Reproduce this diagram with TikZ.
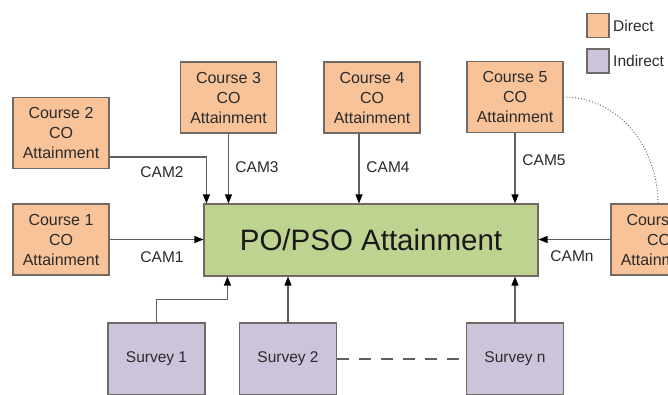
\documentclass[tikz,border=0pt]{standalone}
\usepackage{fontspec}
\setmainfont{Liberation Sans}
\usetikzlibrary{arrows.meta}

\definecolor{directfill}{HTML}{F9C39A}
\definecolor{indirectfill}{HTML}{CDC3DB}
\definecolor{targetfill}{HTML}{BFD391}
\definecolor{edgegray}{HTML}{5E5E5E}
\definecolor{boxline}{HTML}{6F6A66}
\definecolor{txt}{HTML}{2A2A2A}

\tikzset{
  base/.style={draw=boxline, line width=1.1pt, text=txt, align=center,
    inner sep=0pt, font=\fontsize{16}{20}\selectfont},
  coursebox/.style={base, fill=directfill, minimum width=96pt, minimum height=71pt},
  surveybox/.style={base, fill=indirectfill, minimum width=97pt, minimum height=72pt,
    font=\fontsize{15.5}{19}\selectfont},
  targetbox/.style={base, fill=targetfill, minimum width=334pt, minimum height=72pt,
    text=black!90, font=\fontsize{29.5}{34}\selectfont},
  keybox/.style={base, minimum width=22pt, minimum height=24pt},
  keytext/.style={anchor=west, inner sep=0pt, text=txt, font=\fontsize{15.5}{19}\selectfont},
  camlabel/.style={inner sep=0pt, text=txt, font=\fontsize{15.5}{19}\selectfont},
  feed/.style={draw=edgegray, line width=1.2pt,
    -{Triangle[length=9pt,width=7pt,color=black]}},
}

\begin{document}
\begin{tikzpicture}[x=1pt, y=-1pt]
  \useasboundingbox (0,0) rectangle (668,394);
  \clip (0,0) rectangle (668,394);
  \fill[white] (0,0) rectangle (668,394);

  % central attainment block
  \node[targetbox] (po) at (371,240) {PO/PSO Attainment};

  % direct assessment sources
  \node[coursebox] (c1) at (61,239.5) {Course 1\\CO\\Attainment};
  \node[coursebox] (c2) at (61,133) {Course 2\\CO\\Attainment};
  \node[coursebox] (c3) at (228.5,97.5) {Course 3\\CO\\Attainment};
  \node[coursebox] (c4) at (372,97.5) {Course 4\\CO\\Attainment};
  \node[coursebox] (c5) at (515,97) {Course 5\\CO\\Attainment};
  \node[coursebox] (cn) at (659,239.5) {Course n\\CO\\Attainment};

  % indirect assessment sources
  \node[surveybox] (s1) at (156.5,359) {Survey 1};
  \node[surveybox] (s2) at (288,359) {Survey 2};
  \node[surveybox] (sn) at (515,359) {Survey n};

  % legend
  \node[keybox, fill=directfill] (kd) at (598,25.5) {};
  \node[keybox, fill=indirectfill] (ki) at (598,61) {};
  \node[keytext] (kdt) at (613,26) {Direct};
  \node[keytext] (kit) at (613,61) {Indirect};

  % course attainment flows
  \draw[feed] (c1.east) -- (c1.east -| po.west);
  \draw[feed] ([yshift=-24pt]c2.east) -| ([xshift=3pt]po.north west);
  \draw[feed] (c3.south) -- (c3.south |- po.north);
  \draw[feed] ([xshift=-13pt]c4.south) -- ([xshift=-13pt]c4.south |- po.north);
  \draw[feed] (c5.south) -- (c5.south |- po.north);
  \draw[feed] (cn.west) -- (cn.west -| po.east);

  % survey flows
  \draw[feed] (s1.north) -- ++(0,-23) -| ([xshift=24pt]po.south west);
  \draw[feed] (s2.north) -- (s2.north |- po.south);
  \draw[feed] (sn.north) -- (sn.north |- po.south);

  % elided members of each series
  \draw[draw=edgegray, line width=1.1pt, dash pattern=on 12pt off 10pt] (s2.east) -- (sn.west);
  \draw[draw=edgegray, line width=0.9pt, dotted] (c5.east) to[out=0, in=90] ([xshift=-1pt]cn.north);

  % flow labels
  \node[camlabel] (l1) at (162,257) {CAM1};
  \node[camlabel] (l2) at (162,172) {CAM2};
  \node[camlabel] (l3) at (257,167) {CAM3};
  \node[camlabel] (l4) at (388,167) {CAM4};
  \node[camlabel] (l5) at (544,160) {CAM5};
  \node[camlabel] (ln) at (572,256) {CAMn};
\end{tikzpicture}
\end{document}
